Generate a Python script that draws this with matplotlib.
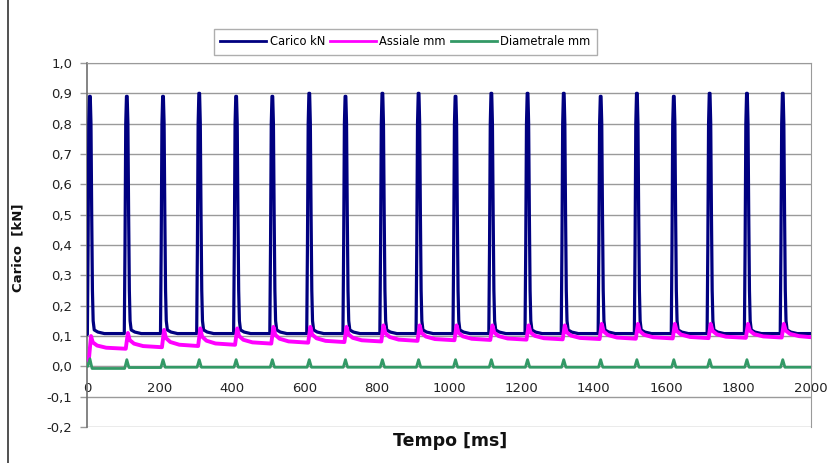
import matplotlib
matplotlib.use("Agg")
import matplotlib.pyplot as plt
from matplotlib.ticker import FuncFormatter, MultipleLocator
from matplotlib.lines import Line2D

# ---- data ----
peak_t = [8, 110, 210, 310, 412, 512, 614, 714, 816, 916,
          1018, 1117, 1217, 1317, 1419, 1519, 1621, 1720, 1823, 1922]
load_peak = [0.89, 0.89, 0.89, 0.90, 0.89, 0.89, 0.90, 0.89, 0.90, 0.90,
             0.89, 0.90, 0.90, 0.90, 0.89, 0.90, 0.89, 0.90, 0.90, 0.90]
load_base = [0.108] * 20
load_start = 0.105

axial_peak = [0.100, 0.110, 0.120, 0.125, 0.125, 0.130, 0.130, 0.130, 0.135, 0.135,
              0.135, 0.135, 0.135, 0.135, 0.140, 0.140, 0.140, 0.140, 0.140, 0.140]
axial_base = [0.058, 0.063, 0.067, 0.071, 0.075, 0.078, 0.080, 0.082, 0.084, 0.086,
              0.087, 0.088, 0.089, 0.090, 0.091, 0.092, 0.093, 0.094, 0.095, 0.096]
axial_start = 0.02

diam_peak = [0.025, 0.022, 0.022, 0.022, 0.022, 0.022, 0.022, 0.022, 0.022, 0.022,
             0.022, 0.022, 0.022, 0.022, 0.022, 0.022, 0.022, 0.022, 0.022, 0.022]
diam_base = [-0.007, -0.004, -0.003, -0.003, -0.003, -0.003, -0.003, -0.003, -0.003, -0.003,
             -0.003, -0.003, -0.003, -0.003, -0.003, -0.003, -0.003, -0.003, -0.003, -0.003]
diam_start = 0.0

t_end = 2000
series_names = ["Carico kN", "Assiale mm", "Diametrale mm"]
series_colors = ["#000080", "#FF00FF", "#339966"]

# ---- build polylines from per-cycle readings ----
tl, yl = [0], [load_start]
for i, tp in enumerate(peak_t):
    b = load_base[i]
    pk = load_peak[i]
    pts = [(tp - 7, yl[-1]), (tp - 5, 0.40), (tp - 3, 0.80), (tp - 1, pk), (tp + 1, pk),
           (tp + 3, 0.80), (tp + 5, 0.50), (tp + 7, 0.25), (tp + 9, 0.15), (tp + 12, b + 0.012),
           (tp + 22, b + 0.005), (tp + 40, b)]
    for a, v in pts:
        if a > tl[-1]:
            tl.append(a); yl.append(v)
tl.append(t_end); yl.append(load_base[-1])

ta, ya = [0], [axial_start]
for i, tp in enumerate(peak_t):
    b = axial_base[i]
    pk = axial_peak[i]
    d = pk - b
    pts = [(tp - 3, ya[-1]), (tp + 3, pk), (tp + 8, b + 0.5 * d), (tp + 20, b + 0.25 * d),
           (tp + 45, b + 0.08 * d)]
    for a, v in pts:
        if a > ta[-1]:
            ta.append(a); ya.append(v)
    nxt = peak_t[i + 1] - 3 if i + 1 < len(peak_t) else t_end
    ta.append(nxt); ya.append(b)

td, yd = [0], [diam_start]
for i, tp in enumerate(peak_t):
    b = diam_base[i]
    pts = [(tp - 6, yd[-1]), (tp, diam_peak[i]), (tp + 6, b)]
    for a, v in pts:
        if a > td[-1]:
            td.append(a); yd.append(v)
    nxt = peak_t[i + 1] - 6 if i + 1 < len(peak_t) else t_end
    td.append(nxt); yd.append(b)

# ---- figure ----
plt.rcParams['font.family'] = ['DejaVu Sans']
W, H = 828, 463
fig = plt.figure(figsize=(W / 100, H / 100), dpi=100)
fig.patch.set_facecolor("white")
ax = fig.add_axes([87 / W, 1 - 427 / H, (811 - 87) / W, (427 - 63) / H])

grid_c = "#9a9a9a"
ax.plot(tl, yl, color=series_colors[0], lw=2.3, label=series_names[0], zorder=3)
ax.plot(ta, ya, color=series_colors[1], lw=2.8, label=series_names[1], zorder=4)
ax.plot(td, yd, color=series_colors[2], lw=2.0, label=series_names[2], zorder=5)

ax.set_xlim(0, 2000)
ax.set_ylim(-0.2, 1.0)
ax.yaxis.set_major_locator(MultipleLocator(0.1))
ax.xaxis.set_major_locator(MultipleLocator(200))
ax.yaxis.set_major_formatter(FuncFormatter(lambda v, p: f"{v:.1f}".replace(".", ",").replace("-0,0", "0,0")))
ax.grid(axis="y", color=grid_c, lw=1.0, zorder=1)
ax.set_axisbelow(True)

ax.spines["bottom"].set_position(("data", 0))
ax.spines["bottom"].set_color(grid_c)
for s in ["top", "right"]:
    ax.spines[s].set_color(grid_c)
ax.spines["left"].set_color("#707070")
ax.spines["left"].set_linewidth(1.2)

ax.tick_params(axis="x", length=0, pad=11, labelsize=9.5, colors="#222222")
ax.tick_params(axis="y", length=5, width=1, pad=5.5, labelsize=9.5, colors="#222222")
ax.tick_params(axis="y", color=grid_c)

fig.text(18 / W, 1 - 248 / H, "Carico  [kN]", rotation=90, ha="center", va="center",
         fontsize=9.5, fontweight="bold", color="#111111")
fig.text(450 / W, 1 - 441 / H, "Tempo [ms]", ha="center", va="center",
         fontsize=12.5, fontweight="bold", color="#111111")

leg = ax.legend(loc="upper left", bbox_to_anchor=(214 / W, 1 - 29 / H),
                bbox_transform=fig.transFigure, ncol=3, fontsize=8.3, frameon=True,
                fancybox=False, handlelength=4.0, handletextpad=0.3, columnspacing=0.4,
                borderpad=0.55, borderaxespad=0)
leg.get_frame().set_edgecolor("#9a9a9a")
leg.get_frame().set_linewidth(1.0)
for h in leg.get_lines():
    h.set_linewidth(2.0)

fig.add_artist(Line2D([8 / W, 8 / W], [0, 1], color="#333333", lw=1.2))

fig.savefig("out.png", dpi=100, facecolor="white")
